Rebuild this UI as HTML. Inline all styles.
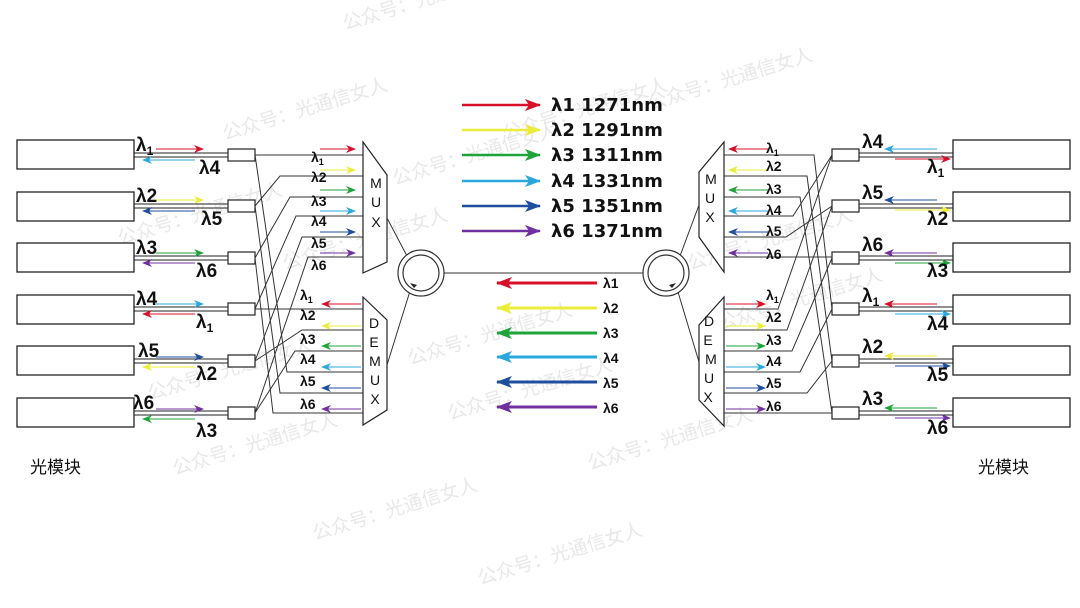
<!DOCTYPE html>
<html><head><meta charset="utf-8"><style>
html,body{margin:0;padding:0;background:#fff}
svg{display:block}
text{font-family:"Liberation Sans","Noto Sans CJK SC",sans-serif}
.b{font-weight:bold}
.dj text{font-family:"DejaVu Sans","Liberation Sans",sans-serif}
</style></head><body>
<svg width="1080" height="608" viewBox="0 0 1080 608" xmlns="http://www.w3.org/2000/svg">
<defs>
<marker id="mr" markerUnits="userSpaceOnUse" markerWidth="10" markerHeight="8" refX="9" refY="4" orient="auto"><path d="M0,0 L10,4 L0,8 L3,4Z" fill="#d7102a"/></marker>
<marker id="my" markerUnits="userSpaceOnUse" markerWidth="10" markerHeight="8" refX="9" refY="4" orient="auto"><path d="M0,0 L10,4 L0,8 L3,4Z" fill="#ecec3a"/></marker>
<marker id="mg" markerUnits="userSpaceOnUse" markerWidth="10" markerHeight="8" refX="9" refY="4" orient="auto"><path d="M0,0 L10,4 L0,8 L3,4Z" fill="#1fa33a"/></marker>
<marker id="mc" markerUnits="userSpaceOnUse" markerWidth="10" markerHeight="8" refX="9" refY="4" orient="auto"><path d="M0,0 L10,4 L0,8 L3,4Z" fill="#2aa8dc"/></marker>
<marker id="mb" markerUnits="userSpaceOnUse" markerWidth="10" markerHeight="8" refX="9" refY="4" orient="auto"><path d="M0,0 L10,4 L0,8 L3,4Z" fill="#1f4e9c"/></marker>
<marker id="mp" markerUnits="userSpaceOnUse" markerWidth="10" markerHeight="8" refX="9" refY="4" orient="auto"><path d="M0,0 L10,4 L0,8 L3,4Z" fill="#7030a0"/></marker>
<marker id="Mr" markerUnits="userSpaceOnUse" markerWidth="16" markerHeight="12" refX="15" refY="6" orient="auto"><path d="M0,0 L16,6 L0,12 L4,6Z" fill="#d7102a"/></marker>
<marker id="My" markerUnits="userSpaceOnUse" markerWidth="16" markerHeight="12" refX="15" refY="6" orient="auto"><path d="M0,0 L16,6 L0,12 L4,6Z" fill="#ecec3a"/></marker>
<marker id="Mg" markerUnits="userSpaceOnUse" markerWidth="16" markerHeight="12" refX="15" refY="6" orient="auto"><path d="M0,0 L16,6 L0,12 L4,6Z" fill="#1fa33a"/></marker>
<marker id="Mc" markerUnits="userSpaceOnUse" markerWidth="16" markerHeight="12" refX="15" refY="6" orient="auto"><path d="M0,0 L16,6 L0,12 L4,6Z" fill="#2aa8dc"/></marker>
<marker id="Mb" markerUnits="userSpaceOnUse" markerWidth="16" markerHeight="12" refX="15" refY="6" orient="auto"><path d="M0,0 L16,6 L0,12 L4,6Z" fill="#1f4e9c"/></marker>
<marker id="Mp" markerUnits="userSpaceOnUse" markerWidth="16" markerHeight="12" refX="15" refY="6" orient="auto"><path d="M0,0 L16,6 L0,12 L4,6Z" fill="#7030a0"/></marker>
</defs>

<g fill="#e8e8e8" font-size="19">
<text transform="translate(345,30) rotate(-17)">公众号：光通信女人</text>
<text transform="translate(505,140) rotate(-17)">公众号：光通信女人</text>
<text transform="translate(225,140) rotate(-17)">公众号：光通信女人</text>
<text transform="translate(650,110) rotate(-17)">公众号：光通信女人</text>
<text transform="translate(120,245) rotate(-17)">公众号：光通信女人</text>
<text transform="translate(395,185) rotate(-17)">公众号：光通信女人</text>
<text transform="translate(690,270) rotate(-17)">公众号：光通信女人</text>
<text transform="translate(285,270) rotate(-17)">公众号：光通信女人</text>
<text transform="translate(410,365) rotate(-17)">公众号：光通信女人</text>
<text transform="translate(720,330) rotate(-17)">公众号：光通信女人</text>
<text transform="translate(150,400) rotate(-17)">公众号：光通信女人</text>
<text transform="translate(450,420) rotate(-17)">公众号：光通信女人</text>
<text transform="translate(175,475) rotate(-17)">公众号：光通信女人</text>
<text transform="translate(590,470) rotate(-17)">公众号：光通信女人</text>
<text transform="translate(315,540) rotate(-17)">公众号：光通信女人</text>
<text transform="translate(480,585) rotate(-17)">公众号：光通信女人</text>
</g>

<g stroke="#222" stroke-width="1.3" fill="none">
<rect x="17" y="140" width="117" height="29"/><rect x="17" y="192" width="117" height="29"/>
<rect x="17" y="243" width="117" height="29"/><rect x="17" y="295" width="117" height="29"/>
<rect x="17" y="346" width="117" height="29"/><rect x="17" y="398" width="117" height="29"/>
<rect x="953" y="140" width="117" height="29"/><rect x="953" y="192" width="117" height="29"/>
<rect x="953" y="243" width="117" height="29"/><rect x="953" y="295" width="117" height="29"/>
<rect x="953" y="346" width="117" height="29"/><rect x="953" y="398" width="117" height="29"/>
</g>
<g stroke="#222" stroke-width="1">
<path d="M134,153H228M134,157H228M134,204H228M134,208H228M134,256H228M134,260H228M134,307H228M134,311H228M134,359H228M134,363H228M134,411H228M134,415H228"/>
<path d="M859,153H953M859,157H953M859,204H953M859,208H953M859,256H953M859,260H953M859,307H953M859,311H953M859,359H953M859,363H953M859,411H953M859,415H953"/>
</g>
<g stroke="#222" stroke-width="1.2" fill="#fff">
<rect x="228" y="149" width="27" height="12"/><rect x="228" y="200" width="27" height="12"/>
<rect x="228" y="252" width="27" height="12"/><rect x="228" y="303" width="27" height="12"/>
<rect x="228" y="355" width="27" height="12"/><rect x="228" y="407" width="27" height="12"/>
<rect x="832" y="149" width="27" height="12"/><rect x="832" y="200" width="27" height="12"/>
<rect x="832" y="252" width="27" height="12"/><rect x="832" y="303" width="27" height="12"/>
<rect x="832" y="355" width="27" height="12"/><rect x="832" y="407" width="27" height="12"/>
</g>

<g stroke="#333" stroke-width="1" fill="none">
<path d="M255,155H363"/>
<path d="M255,206L280,176H363"/>
<path d="M255,258L290,197H363"/>
<path d="M255,309L296,216H363"/>
<path d="M255,361L302,237H363"/>
<path d="M255,413L308,257H363"/>
<path d="M255,309H363"/>
<path d="M255,361L302,330H363"/>
<path d="M255,413L295,351H363"/>
<path d="M255,155L287,372H363"/>
<path d="M255,206L280,393H363"/>
<path d="M255,258L273,413H363"/>
<path d="M724,257H832"/>
<path d="M724,413H832"/>
<path d="M724,155H814L832,309"/>
<path d="M724,176H807L832,361"/>
<path d="M724,197H800L832,413"/>
<path d="M724,216H793L832,155"/>
<path d="M724,237H786L832,206"/>
<path d="M724,309H778L832,155"/>
<path d="M724,330H787L832,206"/>
<path d="M724,351H792L832,258"/>
<path d="M724,372H800L832,309"/>
<path d="M724,393H807L832,361"/>
</g>

<g stroke="#222" stroke-width="1.2" fill="#fff">
<path d="M363,142L387,175V262L363,273Z"/>
<path d="M363,297L387,320V410L363,425Z"/>
<path d="M724,142L699,172V237L724,272Z"/>
<path d="M724,297L699,325V400L724,426Z"/>
</g>
<g font-size="14" fill="#111" text-anchor="middle">
<text x="376" y="188">M</text><text x="376" y="207">U</text><text x="376" y="227">X</text>
<text x="374" y="328">D</text><text x="374" y="347">E</text><text x="375" y="366">M</text><text x="375" y="385">U</text><text x="375" y="404">X</text>
<text x="711" y="184">M</text><text x="710" y="203">U</text><text x="710" y="222">X</text>
<text x="709" y="326">D</text><text x="708" y="345">E</text><text x="711" y="364">M</text><text x="709" y="383">U</text><text x="708" y="402">X</text>
</g>

<g stroke="#333" stroke-width="1" fill="none">
<path d="M387,218L407,256"/><path d="M387,365L410,291"/>
<path d="M444,273H644"/>
<path d="M699,205L680,256"/><path d="M699,362L678,292"/>
</g>
<g stroke="#333" stroke-width="1.2" fill="#fff">
<circle cx="421" cy="273" r="23"/><circle cx="666" cy="273" r="23"/>
</g>
<g stroke="#333" stroke-width="1.2" fill="none">
<circle cx="421" cy="273" r="18"/><circle cx="666" cy="273" r="18"/>
</g>
<g fill="#222"><path d="M410,283l7,2l-3,3z"/><path d="M676,283l-7,2l3,3z"/></g>

<g stroke-width="2.4">
<line x1="462" y1="105" x2="540" y2="105" stroke="#d7102a" marker-end="url(#Mr)"/>
<line x1="462" y1="130" x2="540" y2="130" stroke="#ecec3a" marker-end="url(#My)"/>
<line x1="462" y1="155" x2="540" y2="155" stroke="#1fa33a" marker-end="url(#Mg)"/>
<line x1="462" y1="181" x2="540" y2="181" stroke="#2aa8dc" marker-end="url(#Mc)"/>
<line x1="462" y1="206" x2="540" y2="206" stroke="#1f4e9c" marker-end="url(#Mb)"/>
<line x1="462" y1="231" x2="540" y2="231" stroke="#7030a0" marker-end="url(#Mp)"/>
</g>
<g stroke-width="3">
<line x1="597" y1="283" x2="497" y2="283" stroke="#d7102a" marker-end="url(#Mr)"/>
<line x1="597" y1="308" x2="497" y2="308" stroke="#ecec3a" marker-end="url(#My)"/>
<line x1="597" y1="333" x2="497" y2="333" stroke="#1fa33a" marker-end="url(#Mg)"/>
<line x1="597" y1="357" x2="497" y2="357" stroke="#2aa8dc" marker-end="url(#Mc)"/>
<line x1="597" y1="382" x2="497" y2="382" stroke="#1f4e9c" marker-end="url(#Mb)"/>
<line x1="597" y1="407" x2="497" y2="407" stroke="#7030a0" marker-end="url(#Mp)"/>
</g>
<g class="b dj" font-size="18" fill="#111">
<text x="551" y="111">λ1 1271nm</text><text x="551" y="136">λ2 1291nm</text>
<text x="551" y="161">λ3 1311nm</text><text x="551" y="187">λ4 1331nm</text>
<text x="551" y="212">λ5 1351nm</text><text x="551" y="237">λ6 1371nm</text>
</g>
<g class="b" font-size="14" fill="#111">
<text x="603" y="288">λ1</text><text x="603" y="313">λ2</text><text x="603" y="338">λ3</text>
<text x="603" y="363">λ4</text><text x="603" y="388">λ5</text><text x="603" y="413">λ6</text>
</g>

<g stroke-width="1.1">
<line x1="320" y1="149" x2="355" y2="149" stroke="#d7102a" marker-end="url(#mr)"/>
<line x1="320" y1="170" x2="355" y2="170" stroke="#ecec3a" marker-end="url(#my)"/>
<line x1="320" y1="190" x2="355" y2="190" stroke="#1fa33a" marker-end="url(#mg)"/>
<line x1="320" y1="211" x2="355" y2="211" stroke="#2aa8dc" marker-end="url(#mc)"/>
<line x1="320" y1="232" x2="355" y2="232" stroke="#1f4e9c" marker-end="url(#mb)"/>
<line x1="320" y1="253" x2="355" y2="253" stroke="#7030a0" marker-end="url(#mp)"/>
<line x1="361" y1="304" x2="322" y2="304" stroke="#d7102a" marker-end="url(#mr)"/>
<line x1="361" y1="326" x2="322" y2="326" stroke="#ecec3a" marker-end="url(#my)"/>
<line x1="361" y1="346" x2="322" y2="346" stroke="#1fa33a" marker-end="url(#mg)"/>
<line x1="361" y1="367" x2="322" y2="367" stroke="#2aa8dc" marker-end="url(#mc)"/>
<line x1="361" y1="388" x2="322" y2="388" stroke="#1f4e9c" marker-end="url(#mb)"/>
<line x1="361" y1="409" x2="322" y2="409" stroke="#7030a0" marker-end="url(#mp)"/>
<line x1="768" y1="149" x2="729" y2="149" stroke="#d7102a" marker-end="url(#mr)"/>
<line x1="768" y1="170" x2="729" y2="170" stroke="#ecec3a" marker-end="url(#my)"/>
<line x1="768" y1="190" x2="729" y2="190" stroke="#1fa33a" marker-end="url(#mg)"/>
<line x1="768" y1="211" x2="729" y2="211" stroke="#2aa8dc" marker-end="url(#mc)"/>
<line x1="768" y1="232" x2="729" y2="232" stroke="#1f4e9c" marker-end="url(#mb)"/>
<line x1="768" y1="253" x2="729" y2="253" stroke="#7030a0" marker-end="url(#mp)"/>
<line x1="726" y1="304" x2="765" y2="304" stroke="#d7102a" marker-end="url(#mr)"/>
<line x1="726" y1="326" x2="765" y2="326" stroke="#ecec3a" marker-end="url(#my)"/>
<line x1="726" y1="346" x2="765" y2="346" stroke="#1fa33a" marker-end="url(#mg)"/>
<line x1="726" y1="367" x2="765" y2="367" stroke="#2aa8dc" marker-end="url(#mc)"/>
<line x1="726" y1="388" x2="765" y2="388" stroke="#1f4e9c" marker-end="url(#mb)"/>
<line x1="726" y1="409" x2="765" y2="409" stroke="#7030a0" marker-end="url(#mp)"/>
</g>
<g class="b" font-size="14" fill="#111">
<text x="311" y="162">λ<tspan font-size="9" dy="3">1</tspan></text>
<text x="311" y="182">λ2</text><text x="311" y="206">λ3</text><text x="311" y="226">λ4</text>
<text x="311" y="248">λ5</text><text x="311" y="270">λ6</text>
<text x="300" y="300">λ<tspan font-size="9" dy="3">1</tspan></text>
<text x="300" y="320">λ2</text><text x="300" y="344">λ3</text><text x="300" y="364">λ4</text>
<text x="300" y="386">λ5</text><text x="300" y="409">λ6</text>
<text x="766" y="153">λ<tspan font-size="9" dy="3">1</tspan></text>
<text x="766" y="171">λ2</text><text x="766" y="194">λ3</text><text x="766" y="215">λ4</text>
<text x="766" y="236">λ5</text><text x="766" y="259">λ6</text>
<text x="766" y="300">λ<tspan font-size="9" dy="3">1</tspan></text>
<text x="766" y="322">λ2</text><text x="766" y="345">λ3</text><text x="766" y="366">λ4</text>
<text x="766" y="388">λ5</text><text x="766" y="411">λ6</text>
</g>

<g stroke-width="1.1">
<line x1="156" y1="149" x2="203" y2="149" stroke="#d7102a" marker-end="url(#mr)"/>
<line x1="195" y1="160" x2="143" y2="160" stroke="#2aa8dc" marker-end="url(#mc)"/>
<line x1="156" y1="200" x2="203" y2="200" stroke="#ecec3a" marker-end="url(#my)"/>
<line x1="195" y1="211" x2="143" y2="211" stroke="#1f4e9c" marker-end="url(#mb)"/>
<line x1="156" y1="253" x2="203" y2="253" stroke="#1fa33a" marker-end="url(#mg)"/>
<line x1="195" y1="263" x2="143" y2="263" stroke="#7030a0" marker-end="url(#mp)"/>
<line x1="156" y1="304" x2="203" y2="304" stroke="#2aa8dc" marker-end="url(#mc)"/>
<line x1="195" y1="314" x2="143" y2="314" stroke="#d7102a" marker-end="url(#mr)"/>
<line x1="156" y1="357" x2="203" y2="357" stroke="#1f4e9c" marker-end="url(#mb)"/>
<line x1="195" y1="367" x2="143" y2="367" stroke="#ecec3a" marker-end="url(#my)"/>
<line x1="156" y1="409" x2="203" y2="409" stroke="#7030a0" marker-end="url(#mp)"/>
<line x1="195" y1="419" x2="143" y2="419" stroke="#1fa33a" marker-end="url(#mg)"/>
<line x1="937" y1="149" x2="885" y2="149" stroke="#2aa8dc" marker-end="url(#mc)"/>
<line x1="895" y1="159" x2="950" y2="159" stroke="#d7102a" marker-end="url(#mr)"/>
<line x1="937" y1="200" x2="885" y2="200" stroke="#1f4e9c" marker-end="url(#mb)"/>
<line x1="895" y1="210" x2="950" y2="210" stroke="#ecec3a" marker-end="url(#my)"/>
<line x1="937" y1="253" x2="885" y2="253" stroke="#7030a0" marker-end="url(#mp)"/>
<line x1="895" y1="263" x2="950" y2="263" stroke="#1fa33a" marker-end="url(#mg)"/>
<line x1="937" y1="304" x2="885" y2="304" stroke="#d7102a" marker-end="url(#mr)"/>
<line x1="895" y1="314" x2="950" y2="314" stroke="#2aa8dc" marker-end="url(#mc)"/>
<line x1="937" y1="356" x2="885" y2="356" stroke="#ecec3a" marker-end="url(#my)"/>
<line x1="895" y1="366" x2="950" y2="366" stroke="#1f4e9c" marker-end="url(#mb)"/>
<line x1="937" y1="408" x2="885" y2="408" stroke="#1fa33a" marker-end="url(#mg)"/>
<line x1="895" y1="418" x2="950" y2="418" stroke="#7030a0" marker-end="url(#mp)"/>
</g>
<g class="b" font-size="19" fill="#111">
<text x="136" y="151">λ<tspan font-size="12" dy="4">1</tspan></text>
<text x="199" y="174">λ4</text>
<text x="136" y="202">λ2</text><text x="201" y="225">λ5</text>
<text x="136" y="254">λ3</text><text x="196" y="277">λ6</text>
<text x="136" y="305">λ4</text><text x="196" y="328">λ<tspan font-size="12" dy="4">1</tspan></text>
<text x="138" y="357">λ5</text><text x="196" y="380">λ2</text>
<text x="133" y="409">λ6</text><text x="196" y="437">λ3</text>
<text x="862" y="148">λ4</text><text x="927" y="173">λ<tspan font-size="12" dy="4">1</tspan></text>
<text x="862" y="199">λ5</text><text x="927" y="225">λ2</text>
<text x="862" y="251">λ6</text><text x="927" y="277">λ3</text>
<text x="862" y="302">λ<tspan font-size="12" dy="4">1</tspan></text><text x="927" y="330">λ4</text>
<text x="862" y="353">λ2</text><text x="927" y="381">λ5</text>
<text x="862" y="405">λ3</text><text x="927" y="434">λ6</text>
</g>

<g font-size="17" fill="#111">
<text x="30" y="473">光模块</text>
<text x="978" y="473">光模块</text>
</g>
</svg>
</body></html>
